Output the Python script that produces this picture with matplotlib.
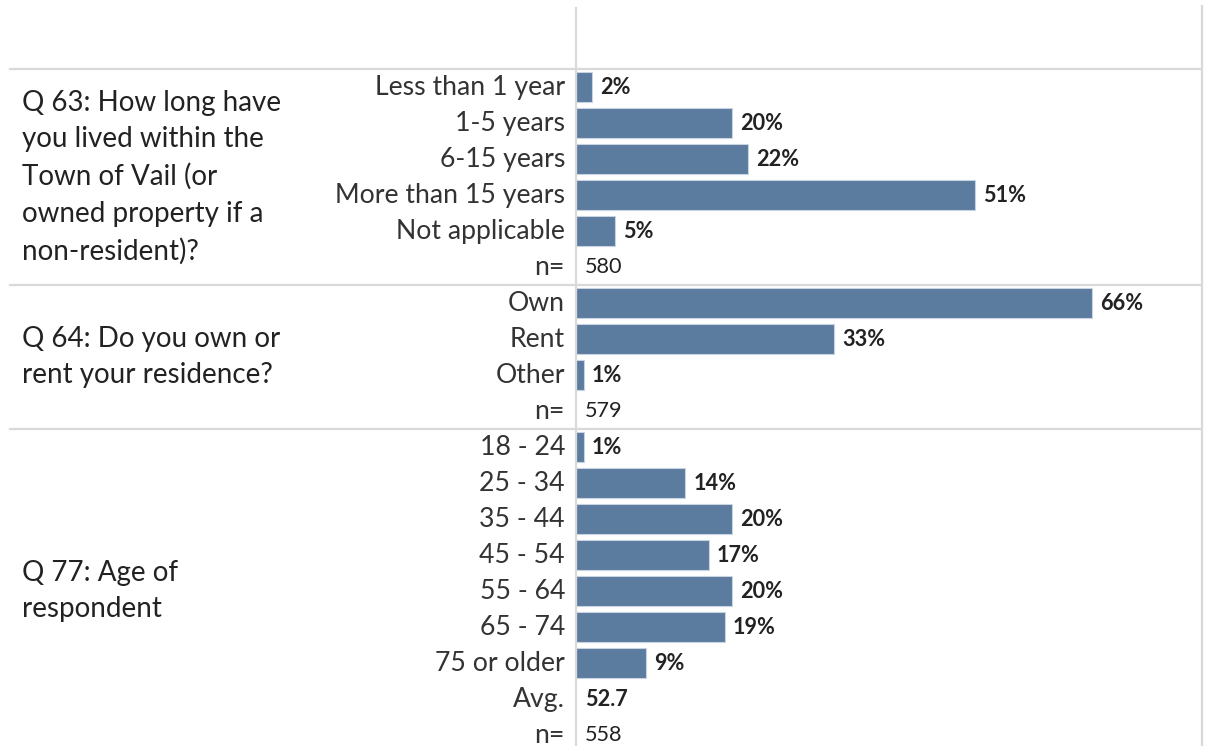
import matplotlib
matplotlib.use("Agg")
import matplotlib.pyplot as plt
import matplotlib.transforms as mtransforms

plt.rcParams['font.family'] = ['Lato', 'DejaVu Sans']

# --- data ---
q63_title = "Q 63: How long have\nyou lived within the\nTown of Vail (or\nowned property if a\nnon-resident)?"
q63_cats = ['Less than 1 year', '1-5 years', '6-15 years', 'More than 15 years', 'Not applicable']
q63_pct = [2, 20, 22, 51, 5]
q63_n = 580

q64_title = "Q 64: Do you own or\nrent your residence?"
q64_cats = ['Own', 'Rent', 'Other']
q64_pct = [66, 33, 1]
q64_n = 579

q77_title = "Q 77: Age of\nrespondent"
q77_cats = ['18 - 24', '25 - 34', '35 - 44', '45 - 54', '55 - 64', '65 - 74', '75 or older']
q77_pct = [1, 14, 20, 17, 20, 19, 9]
q77_avg = 52.7
q77_n = 558

BAR = '#5b7b9f'
GRID = '#d9d9d9'
W, H = 1205, 746
PX_PER_PCT = 7.82
ROW_PX = 36.0

fig = plt.figure(figsize=(W / 100, H / 100), dpi=100)
ax = fig.add_axes([0, 0, 1, 1])
ax.set_xlim(-576 / PX_PER_PCT, (W - 576) / PX_PER_PCT)
ax.set_ylim((H - 87) / ROW_PX, -87 / ROW_PX)
ax.axis('off')

blocks = [
    (q63_title, q63_cats, q63_pct, [('n=', str(q63_n), 'normal')]),
    (q64_title, q64_cats, q64_pct, [('n=', str(q64_n), 'normal')]),
    (q77_title, q77_cats, q77_pct, [('Avg.', f'{q77_avg}', 'bold'), ('n=', str(q77_n), 'normal')]),
]

x_right = (1202 - 576) / PX_PER_PCT
x_left = (10 - 576) / PX_PER_PCT
label_tf = mtransforms.offset_copy(ax.transData, fig=fig, x=-11, y=2, units='dots')
value_tf = mtransforms.offset_copy(ax.transData, fig=fig, x=8, y=2, units='dots')
stat_tf = mtransforms.offset_copy(ax.transData, fig=fig, x=9, y=2, units='dots')
title_tf = mtransforms.blended_transform_factory(fig.transFigure, ax.transData)

CAT_FS = 19.2
VAL_FS = 15.6
row = 0
for title, cats, pct, extras in blocks:
    start = row
    ys = list(range(row, row + len(cats)))
    ax.barh(ys, pct, height=0.85, color=BAR, edgecolor='#c8d3df', linewidth=0.8, zorder=2)
    for y, c, p in zip(ys, cats, pct):
        ax.text(0, y, c, transform=label_tf, ha='right', va='center_baseline', fontsize=CAT_FS, color='#333333')
        ax.text(p, y, f'{p}%', transform=value_tf, ha='left', va='center_baseline', fontsize=VAL_FS,
                fontweight='bold', color='#222222')
    row += len(cats)
    for lab, val, wt in extras:
        ax.text(0, row, lab, transform=label_tf, ha='right', va='center_baseline', fontsize=CAT_FS, color='#333333')
        ax.text(0, row, val, transform=stat_tf, ha='left', va='center_baseline', fontsize=VAL_FS,
                fontweight=wt, color='#222222')
        row += 1
    end = row
    ax.text(22 / W, (start + end - 1) / 2, title, transform=title_tf, ha='left', va='center',
            fontsize=20, color='#222222', linespacing=1.5)
    ax.plot([x_left, x_right], [start - 0.5, start - 0.5], color=GRID, lw=1.6, zorder=1)

# axis line and right border
top = (8 - 87) / ROW_PX
ax.plot([0, 0], [top, row], color=GRID, lw=1.6, zorder=3)
ax.plot([x_right, x_right], [(6 - 87) / ROW_PX, row], color=GRID, lw=1.6, zorder=1)

fig.savefig('out.png', dpi=100, facecolor='white')
